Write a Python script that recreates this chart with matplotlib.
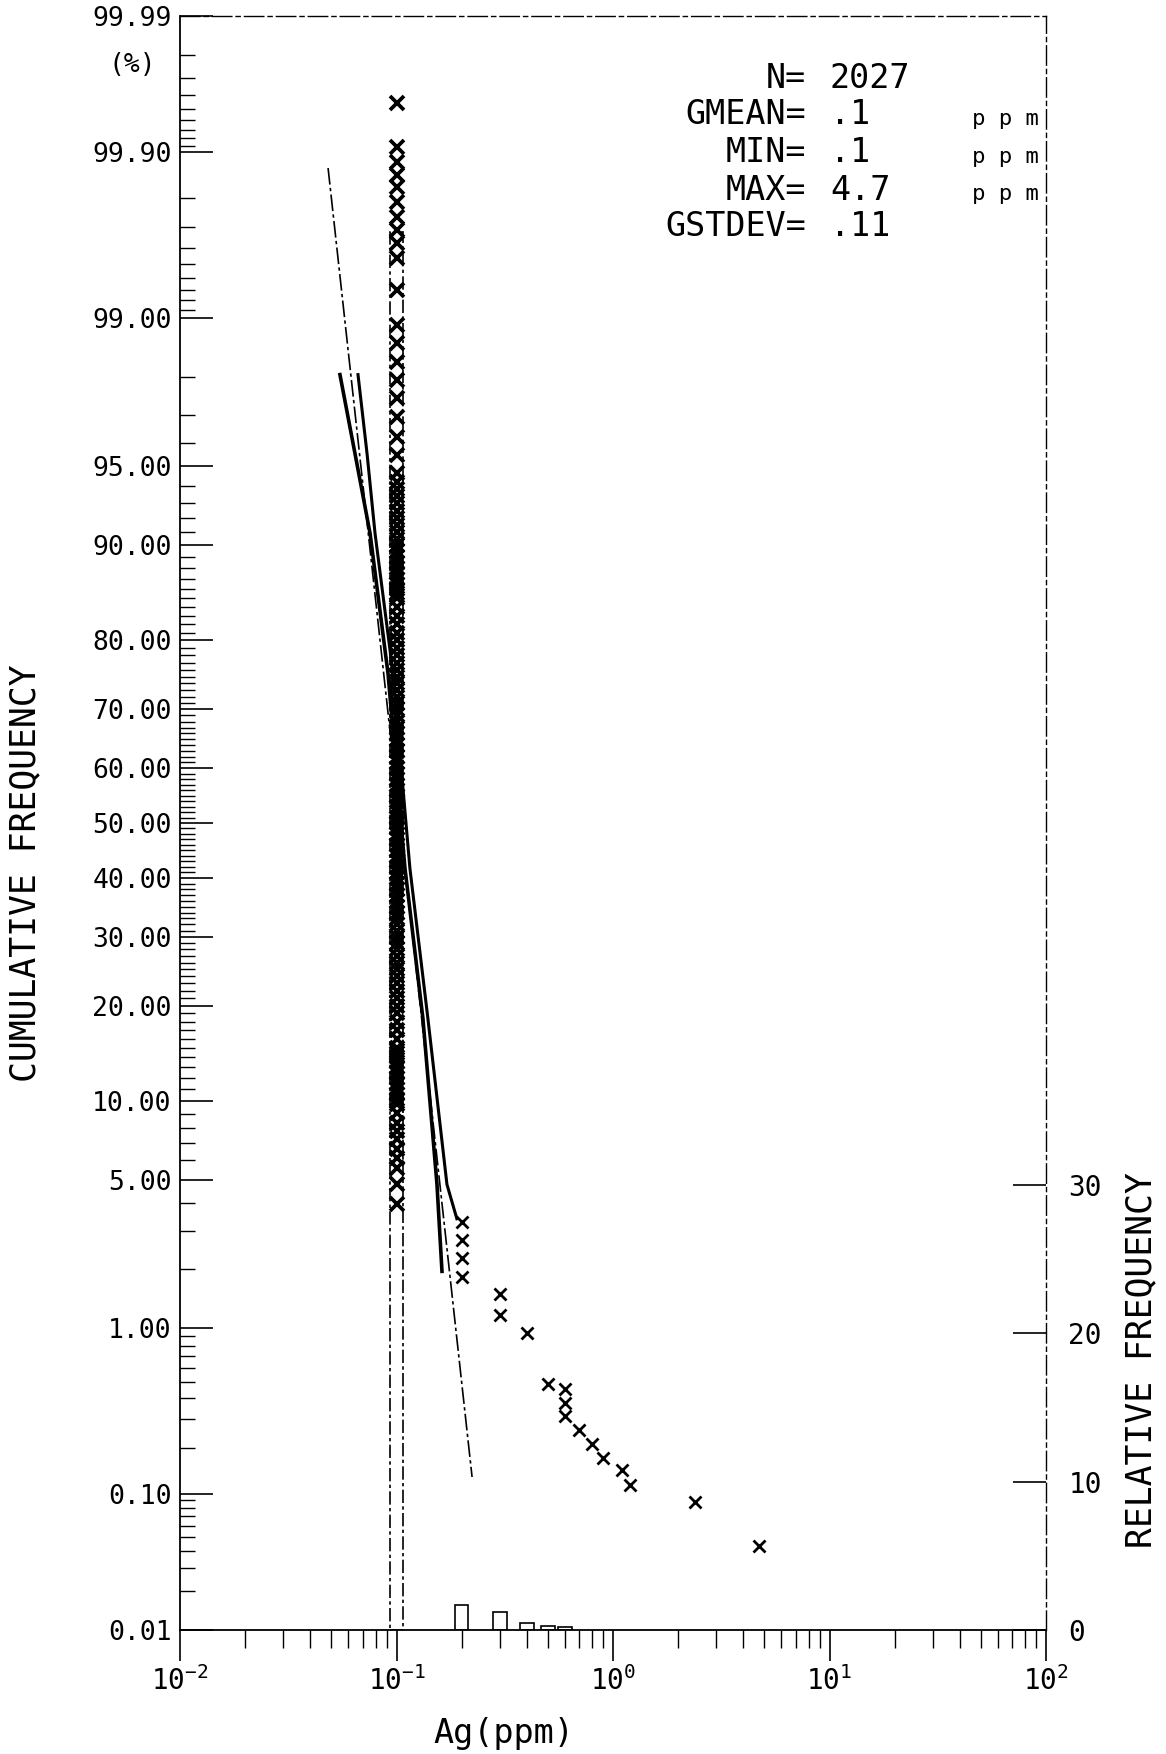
import matplotlib
matplotlib.use("Agg")
import matplotlib.pyplot as plt
from statistics import NormalDist

# ---- data ----
# crosses stacked at the detection limit (0.1 ppm), cumulative % greater than
col_x = 0.1
col_pct = [99.955, 99.908, 99.884, 99.859, 99.830, 99.789, 99.738, 99.685, 99.623,
           99.538, 99.295, 98.908, 98.645, 98.31, 97.93, 97.48, 96.92, 96.22, 95.49,
           94.64, 94.2, 93.8, 93.4, 93.0, 92.5, 92.0, 91.5, 91.0, 90.5, 90.0, 89.5,
           89.0, 88.5, 88.0, 87.5, 87.0, 86.5, 86.0, 85.5, 85.0, 84.0, 83.0, 82.0,
           81.0, 80.0, 79.0, 78.0, 77.0, 76.0, 75.0, 74.0, 73.0, 72.0, 71.0, 70.0,
           69.0, 68.0, 67.0, 66.0, 65.0, 64.0, 63.0, 62.0, 61.0, 60.0, 59.0, 58.0,
           57.0, 56.0, 55.0, 54.0, 53.0, 52.0, 51.0, 50.0, 49.0, 48.0, 47.0, 46.0,
           45.0, 44.0, 43.0, 42.0, 41.0, 40.0, 39.0, 38.0, 37.0, 36.0, 35.0, 34.0,
           33.0, 32.0, 31.0, 30.0, 29.0, 28.0, 27.0, 26.0, 25.0, 24.0, 23.0, 22.0,
           21.0, 20.0, 19.0, 18.0, 17.0, 16.0, 15.0, 14.5, 14.0, 13.5, 13.0, 12.5,
           12.0, 11.5, 11.0, 10.6, 10.2, 9.73, 9.04, 8.32, 7.76, 7.24, 6.63, 6.11,
           5.57, 4.79, 3.94]

# remaining samples above the detection limit
tail_x = [0.2, 0.2, 0.2, 0.2, 0.3, 0.3, 0.4, 0.5, 0.6, 0.6, 0.6, 0.7, 0.8, 0.9,
          1.1, 1.2, 2.4, 4.7]
tail_pct = [3.31, 2.74, 2.24, 1.83, 1.49, 1.17, 0.94, 0.488, 0.457, 0.377, 0.315,
            0.258, 0.211, 0.172, 0.144, 0.114, 0.088, 0.043]

# fitted lines (ppm, %)
fit_a_x = [0.0548, 0.0643, 0.0755, 0.0914, 0.1094, 0.1324, 0.1538, 0.1622]
fit_a_pct = [98.06, 95.57, 90.89, 75.43, 41.76, 18.41, 4.79, 1.94]
fit_b_x = [0.0664, 0.0731, 0.0796, 0.0964, 0.1153, 0.1396, 0.1710, 0.190]
fit_b_pct = [98.06, 95.57, 90.89, 75.43, 41.76, 18.41, 4.79, 3.41]
fit_c_x = [0.0483, 0.2234]
fit_c_pct = [99.873, 0.129]

# histogram (relative frequency, %)
hist_x = [0.1, 0.2, 0.3, 0.4, 0.5, 0.6]
hist_rf = [94.3, 1.7, 1.2, 0.5, 0.25, 0.2]

prob_major = [0.01, 0.10, 1.00, 5.00, 10.00, 20.00, 30.00, 40.00, 50.00, 60.00,
              70.00, 80.00, 90.00, 95.00, 99.00, 99.90, 99.99]
rf_ticks = [0, 10, 20, 30]

stats = [("N=", "2027", ""), ("GMEAN=", ".1", "ppm"), ("MIN=", ".1", "ppm"),
         ("MAX=", "4.7", "ppm"), ("GSTDEV=", ".11", "")]

nd = NormalDist()


def zq(p):
    return [nd.inv_cdf(v / 100.0) for v in p]


prob_minor = ([i / 100 for i in range(2, 10)] + [i / 10 for i in range(2, 10)]
              + [float(i) for i in range(2, 99) if i not in (5, 10, 20, 30, 40, 50, 60, 70, 80, 90, 95)]
              + [99 + i / 10 for i in range(1, 9)] + [99.9 + i / 100 for i in range(1, 9)])

FONT = "DejaVu Sans Mono"
plt.rcParams["font.family"] = FONT
plt.rcParams["mathtext.fontset"] = "custom"
plt.rcParams["mathtext.rm"] = FONT

W, H = 1166, 1754
fig = plt.figure(figsize=(W / 100, H / 100), dpi=100)
L, R, T, B = 180, 1046, 16, 1630
ax = fig.add_axes([L / W, 1 - B / H, (R - L) / W, (B - T) / H])

ax.set_xscale("log")
ax.set_xlim(0.01, 100)
ax.set_ylim(nd.inv_cdf(0.0001), nd.inv_cdf(0.9999))

# lines
ax.plot(fit_a_x, zq(fit_a_pct), color="black", lw=2.6)
ax.plot(fit_b_x, zq(fit_b_pct), color="black", lw=2.2)
ax.plot(fit_c_x, zq(fit_c_pct), color="black", lw=1.2, ls=(0, (10, 2, 2, 2)))

# crosses
ax.plot([col_x] * len(col_pct), zq(col_pct), "x", color="black", ms=10, mew=2.7)
ax.plot(tail_x, zq(tail_pct), "x", color="black", ms=9, mew=2.0)

# y axis: probability scale
ax.set_yticks(zq(prob_major))
ax.set_yticklabels(["%.2f" % p for p in prob_major], fontsize=19)
ax.set_yticks(zq(prob_minor), minor=True)
ax.tick_params(axis="y", which="major", direction="in", length=24, width=1.2,
               left=True, right=False, pad=6)
ax.tick_params(axis="y", which="minor", direction="in", length=11, width=1.0,
               left=True, right=False)

# x axis
ax.set_xticks([0.01, 0.1, 1, 10, 100])
ax.set_xticklabels([r"$10^{-2}$", r"$10^{-1}$", r"$10^{0}$", r"$10^{1}$", r"$10^{2}$"],
                   fontsize=20)
ax.tick_params(axis="x", which="major", direction="out", length=22, width=1.2,
               top=False, pad=4)
ax.tick_params(axis="x", which="minor", direction="out", length=13, width=1.0,
               top=False)

ax.spines["left"].set_linewidth(1.3)
ax.spines["bottom"].set_linewidth(1.3)
for s in ("top", "right"):
    ax.spines[s].set_linewidth(1.0)
    ax.spines[s].set_linestyle((0, (14, 3, 3, 3)))

# histogram on relative-frequency axis
ax2 = ax.twinx()
ax2.set_ylim(0, (B - T) / 14.83)
for v, h in zip(hist_x, hist_rf):
    lo = v * 10 ** -0.031
    hi = v * 10 ** 0.031
    ax2.bar(lo, h, width=hi - lo, align="edge", fill=False, edgecolor="black",
            lw=1.2, ls=(0, (8, 2, 2, 2)) if h > 50 else "-")
ax2.set_yticks(rf_ticks)
ax2.set_yticklabels([str(t) for t in rf_ticks], fontsize=20)
ax2.tick_params(axis="y", direction="in", length=24, width=1.2, pad=16)
for s in ax2.spines.values():
    s.set_visible(False)

# labels
fig.text(132 / W, 1 - 65 / H, "(%)", fontsize=19, ha="center", va="center")
fig.text(25 / W, 1 - 873 / H, "CUMULATIVE FREQUENCY", fontsize=25, rotation=90,
         ha="center", va="center")
fig.text(1141 / W, 1 - 1360 / H, "RELATIVE FREQUENCY", fontsize=25, rotation=90,
         ha="center", va="center")
fig.text(504 / W, 1 - 1734 / H, "Ag(ppm)", fontsize=24, ha="center", va="center")

rows_y = [78, 115, 153, 190, 226]
for (lab, val, unit), yy in zip(stats, rows_y):
    fig.text(806 / W, 1 - yy / H, lab, fontsize=24, ha="right", va="center")
    fig.text(830 / W, 1 - yy / H, val, fontsize=24, ha="left", va="center")
    if unit:
        fig.text(972 / W, 1 - (yy + 4) / H, "p p m", fontsize=16, ha="left", va="center")

fig.savefig("out.png", dpi=100)
